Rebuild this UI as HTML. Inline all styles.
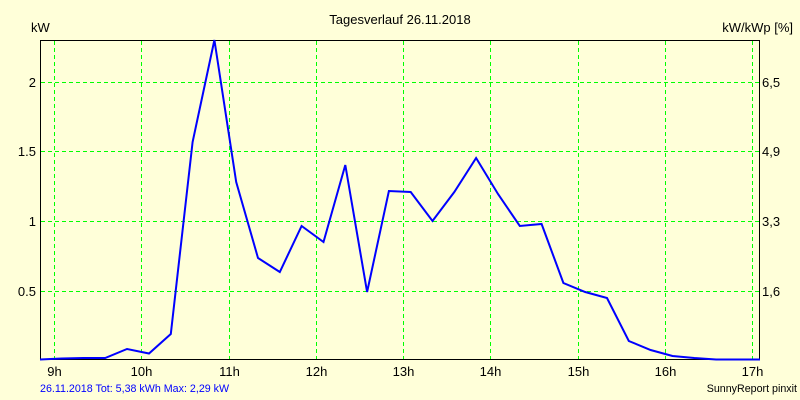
<!DOCTYPE html>
<html><head><meta charset="utf-8"><style>
html,body{margin:0;padding:0;background:#FFFFD9;}
svg{display:block;}
text{font-family:"Liberation Sans",Arial,sans-serif;}
</style></head><body>
<svg width="800" height="400" viewBox="0 0 800 400" xmlns="http://www.w3.org/2000/svg">
<rect x="0" y="0" width="800" height="400" fill="#FFFFD9"/>
<g stroke="#00FF00" stroke-width="1" stroke-dasharray="4,3" shape-rendering="crispEdges">
<line x1="54.5" y1="41" x2="54.5" y2="359"/>
<line x1="141.5" y1="41" x2="141.5" y2="359"/>
<line x1="229.5" y1="41" x2="229.5" y2="359"/>
<line x1="316.5" y1="41" x2="316.5" y2="359"/>
<line x1="403.5" y1="41" x2="403.5" y2="359"/>
<line x1="490.5" y1="41" x2="490.5" y2="359"/>
<line x1="578.5" y1="41" x2="578.5" y2="359"/>
<line x1="665.5" y1="41" x2="665.5" y2="359"/>
<line x1="752.5" y1="41" x2="752.5" y2="359"/>
<line x1="41" y1="82.5" x2="759" y2="82.5"/>
<line x1="41" y1="151.5" x2="759" y2="151.5"/>
<line x1="41" y1="221.5" x2="759" y2="221.5"/>
<line x1="41" y1="291.5" x2="759" y2="291.5"/>
</g>
<g stroke="#000" stroke-width="1" fill="none" shape-rendering="crispEdges">
<line x1="40.5" y1="40" x2="40.5" y2="360"/>
<line x1="759.5" y1="40" x2="759.5" y2="360"/>
<line x1="40" y1="40.5" x2="760" y2="40.5"/>
<line x1="40" y1="359.5" x2="760" y2="359.5"/>
</g>
<polyline fill="none" stroke="#0000FF" stroke-width="2" stroke-linejoin="miter"
points="40,359.5 61.6,358.5 83.4,358 105.2,358 127,349 149,353.5 170.8,334 192.6,142 214.4,40 236.2,182 258,258 279.8,272 301.6,226 323.5,242 345.3,165 367.1,292 388.9,191 410.7,192 432.5,221 454.3,192 476.1,158 498,194 519.8,226 541.6,224 563.4,283 585.2,292 607,298 628.8,341 650.6,350 672.5,356 694.3,358 716.1,359.5 760,359.5"/>
<g font-size="13" fill="#000">
<text x="400" y="24" text-anchor="middle">Tagesverlauf 26.11.2018</text>
<text x="31" y="32">kW</text>
<text x="793" y="32" text-anchor="end">kW/kWp [%]</text>
<text x="36" y="87" text-anchor="end">2</text>
<text x="36" y="156" text-anchor="end">1.5</text>
<text x="36" y="226" text-anchor="end">1</text>
<text x="36" y="296" text-anchor="end">0.5</text>
<text x="762" y="87">6,5</text>
<text x="762" y="156">4,9</text>
<text x="762" y="226">3,3</text>
<text x="762" y="296">1,6</text>
<g text-anchor="middle">
<text x="54.5" y="376">9h</text>
<text x="141.5" y="376">10h</text>
<text x="229.5" y="376">11h</text>
<text x="316.5" y="376">12h</text>
<text x="403.5" y="376">13h</text>
<text x="490.5" y="376">14h</text>
<text x="578.5" y="376">15h</text>
<text x="665.5" y="376">16h</text>
<text x="752.5" y="376">17h</text>
</g>
</g>
<text x="40" y="392" font-size="10.7" fill="#0000FF">26.11.2018 Tot: 5,38 kWh Max: 2,29 kW</text>
<text x="797" y="392" font-size="10.7" fill="#000" text-anchor="end">SunnyReport pinxit</text>
</svg>
</body></html>
